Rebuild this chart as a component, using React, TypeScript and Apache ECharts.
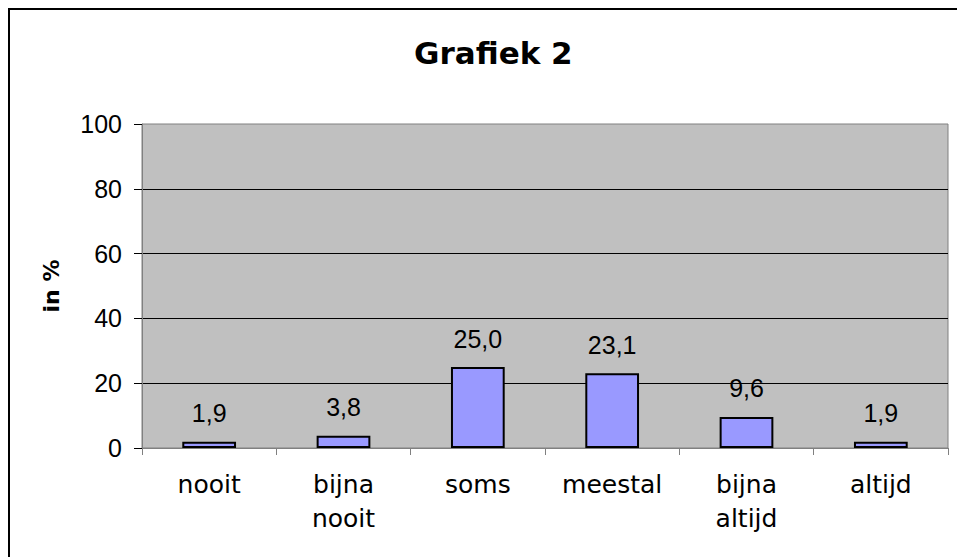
import React, { useEffect, useRef } from "react";
import * as echarts from "echarts";

const categories = ["nooit", "bijna\nnooit", "soms", "meestal", "bijna\naltijd", "altijd"];
const values = [1.9, 3.8, 25.0, 23.1, 9.6, 1.9];
const yTicks = [0, 20, 40, 60, 80, 100];
const titleText = "Grafiek 2";
const yName = "in %";

export default function App() {
  const ref = useRef<HTMLDivElement>(null);
  useEffect(() => {
    if (!ref.current) return;
    const chart = echarts.init(ref.current, null, { renderer: "svg" });
    chart.setOption({
      animation: false,
      backgroundColor: "#ffffff",
      title: {
        text: titleText,
        left: 399,
        top: 22,
        textStyle: { fontFamily: "DejaVu Sans", fontWeight: "bold", fontSize: 31, color: "#000" },
      },
      grid: {
        left: 132,
        right: 9,
        top: 114,
        bottom: 109,
        show: true,
        backgroundColor: "#C0C0C0",
        borderColor: "#808080",
        borderWidth: 1,
      },
      xAxis: {
        type: "category",
        data: categories,
        axisLine: { lineStyle: { color: "#808080", width: 1 } },
        axisTick: { show: true, length: 7, lineStyle: { color: "#808080" } },
        axisLabel: {
          interval: 0,
          margin: 19,
          fontFamily: "DejaVu Sans",
          fontSize: 25,
          lineHeight: 34,
          color: "#000",
        },
      },
      yAxis: {
        type: "value",
        min: yTicks[0],
        max: yTicks[yTicks.length - 1],
        interval: yTicks[1] - yTicks[0],
        name: yName,
        nameLocation: "middle",
        nameRotate: 90,
        nameGap: 80,
        nameTextStyle: { fontFamily: "DejaVu Sans", fontWeight: "bold", fontSize: 22, color: "#000" },
        axisLine: { show: true, lineStyle: { color: "#808080", width: 1 } },
        axisTick: { show: true, length: 8, lineStyle: { color: "#000" } },
        axisLabel: { margin: 20, fontFamily: "Liberation Sans", fontSize: 25, color: "#000" },
        splitLine: { show: true, showMinLine: false, showMaxLine: false, lineStyle: { color: "#000", width: 1 } },
      },
      series: [
        {
          type: "bar",
          data: values,
          barWidth: "40%",
          itemStyle: { color: "#9999FF", borderColor: "#000", borderWidth: 2 },
          label: {
            show: true,
            position: "top",
            distance: 16,
            fontFamily: "Liberation Sans",
            fontSize: 25,
            color: "#000",
            formatter: (p: any) => Number(p.value).toFixed(1).replace(".", ","),
          },
        },
      ],
    });
    return () => chart.dispose();
  }, []);
  return (
    <div style={{ position: "fixed", left: 0, top: 0, width: 957, height: 557, background: "#fff", overflow: "hidden" }}>
      <div
        style={{
          position: "absolute",
          left: 8,
          top: 8,
          width: 949,
          height: 549,
          borderLeft: "2px solid #000",
          borderTop: "2px solid #000",
          boxSizing: "border-box",
        }}
      />
      <div ref={ref} style={{ position: "absolute", left: 10, top: 10, width: 947, height: 547 }} />
    </div>
  );
}
